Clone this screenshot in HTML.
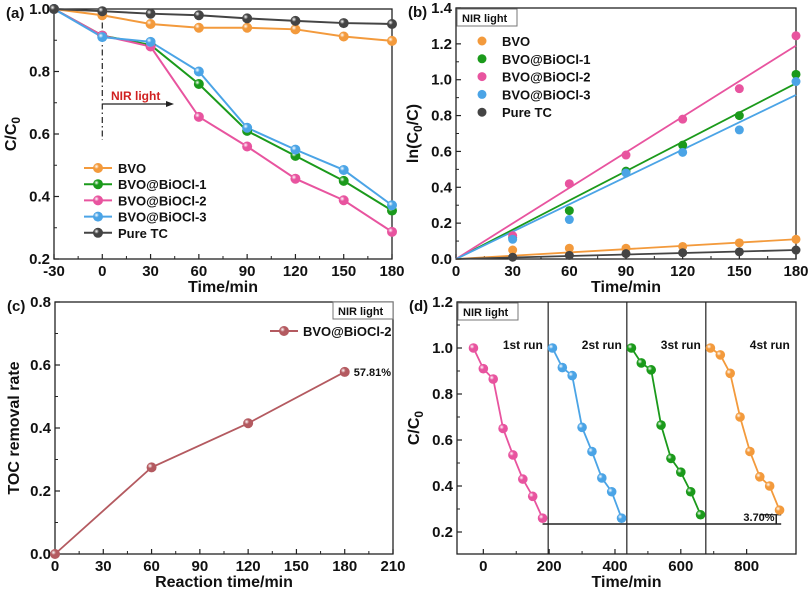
<!DOCTYPE html>
<html><head><meta charset="utf-8">
<style>
html,body{margin:0;padding:0;background:#fff;}
svg{display:block;font-family:"Liberation Sans",Arial,sans-serif;font-weight:bold;}
</style></head>
<body>
<svg id="fig" width="809" height="590" viewBox="0 0 809 590" xmlns="http://www.w3.org/2000/svg">
<defs id="defs"></defs>
</svg>
<script>
// ---- Panel (a) data ----
const aX = [-30, 0, 30, 60, 90, 120, 150, 180];
const aNames = ["BVO", "BVO@BiOCl-1", "BVO@BiOCl-2", "BVO@BiOCl-3", "Pure TC"];
const aBVO = [1.0, 0.98, 0.952, 0.94, 0.94, 0.935, 0.912, 0.898];
const aB1 = [1.0, 0.915, 0.885, 0.76, 0.61, 0.53, 0.45, 0.355];
const aB2 = [1.0, 0.915, 0.88, 0.655, 0.56, 0.457, 0.388, 0.287];
const aB3 = [1.0, 0.91, 0.895, 0.80, 0.62, 0.55, 0.485, 0.372];
const aTC = [1.0, 0.993, 0.985, 0.98, 0.97, 0.962, 0.955, 0.952];
const aXTicks = [-30, 0, 30, 60, 90, 120, 150, 180];
const aYTicks = [0.2, 0.4, 0.6, 0.8, 1.0];
// ---- Panel (b) data ----
const bX = [30, 60, 90, 120, 150, 180];
const bBVO = [0.05, 0.06, 0.06, 0.07, 0.09, 0.11];
const bB1 = [0.12, 0.27, 0.49, 0.635, 0.80, 1.03];
const bB2 = [0.13, 0.42, 0.58, 0.78, 0.95, 1.245];
const bB3 = [0.11, 0.22, 0.48, 0.595, 0.72, 0.99];
const bTC = [0.01, 0.02, 0.03, 0.035, 0.04, 0.05];
const bSlopes = [0.11/180, 0.98/180, 1.19/180, 0.915/180, 0.05/180];
const bXTicks = [0, 30, 60, 90, 120, 150, 180];
const bYTicks = [0.0, 0.2, 0.4, 0.6, 0.8, 1.0, 1.2, 1.4];
// ---- Panel (c) data ----
const cX = [0, 60, 120, 180];
const cY = [0.0, 0.275, 0.415, 0.578];
const cXTicks = [0, 30, 60, 90, 120, 150, 180, 210];
const cYTicks = [0.0, 0.2, 0.4, 0.6, 0.8];
// ---- Panel (d) data ----
const dRunX = [-30, 0, 30, 60, 90, 120, 150, 180];
const dRunOffsets = [0, 240, 480, 720];
const dRun1 = [1.0, 0.91, 0.865, 0.65, 0.535, 0.43, 0.355, 0.26];
const dRun2 = [1.0, 0.915, 0.88, 0.655, 0.55, 0.435, 0.375, 0.26];
const dRun3 = [1.0, 0.935, 0.905, 0.665, 0.52, 0.46, 0.375, 0.275];
const dRun4 = [1.0, 0.97, 0.89, 0.70, 0.55, 0.44, 0.40, 0.295];
const dRunLabels = ["1st run", "2st run", "3st run", "4st run"];
const dSeparators = [197, 436, 676];
const dXTicks = [0, 200, 400, 600, 800];
const dYTicks = [0.2, 0.4, 0.6, 0.8, 1.0, 1.2];

const NS = "http://www.w3.org/2000/svg";
const svg = document.getElementById("fig");
const defs = document.getElementById("defs");
const COL = {orange:"#f39a3c", green:"#1b9a1b", pink:"#e8549f", blue:"#4ba4e6", dark:"#444444", rose:"#b45a60"};

function el(tag, attrs, parent){
  const e = document.createElementNS(NS, tag);
  for (const k in attrs) e.setAttribute(k, attrs[k]);
  (parent||svg).appendChild(e);
  return e;
}
function grad(id, c){
  const g = el("radialGradient",{id:id,cx:"0.35",cy:"0.35",r:"0.7"},defs);
  el("stop",{offset:"0","stop-color":"#ffffff"},g);
  el("stop",{offset:"0.35","stop-color":c},g);
  el("stop",{offset:"1","stop-color":c},g);
}
for (const k in COL) grad("g"+k, COL[k]);

function scale(d0,d1,r0,r1){ return v => r0 + (v-d0)/(d1-d0)*(r1-r0); }

function axes(p, name){
  const g = el("g",{});
  
  
  el("rect",{x:p.l,y:p.t,width:p.r-p.l,height:p.b-p.t,fill:"none",stroke:"#222","stroke-width":1.3},g);
  p.xt.forEach((v,i)=>{
    const x = p.sx(v);
    el("line",{x1:x,y1:p.b,x2:x,y2:p.b-5,stroke:"#222","stroke-width":1.2},g);
    const t = el("text",{x:x,y:p.b+17,"text-anchor":"middle","font-size":15,fill:"#111"},g);
    t.textContent = String(v);
    if (i < p.xt.length-1){
      const xm = p.sx((v+p.xt[i+1])/2);
      el("line",{x1:xm,y1:p.b,x2:xm,y2:p.b-3,stroke:"#222","stroke-width":1},g);
    }
  });
  p.yt.forEach((v,i)=>{
    const y = p.sy(v);
    el("line",{x1:p.l,y1:y,x2:p.l+5,y2:y,stroke:"#222","stroke-width":1.2},g);
    const t = el("text",{x:p.l-4,y:y+5,"text-anchor":"end","font-size":15,fill:"#111"},g);
    t.textContent = v.toFixed(1);
    if (i < p.yt.length-1){
      const ym = p.sy((v+p.yt[i+1])/2);
      el("line",{x1:p.l,y1:ym,x2:p.l+3,y2:ym,stroke:"#222","stroke-width":1},g);
    }
  });
  const xt = el("text",{x:(p.l+p.r)/2,y:p.b+33,"text-anchor":"middle","font-size":16,fill:"#111"},g);
  xt.textContent = p.xtitle;
  const cx = p.l-(p.ytoff||38), cy = (p.t+p.b)/2;
  const yt = el("text",{x:cx,y:cy,"text-anchor":"middle","font-size":16,fill:"#111",transform:`rotate(-90 ${cx} ${cy})`},g);
  yt.innerHTML = p.ytitle;
  const lab = el("text",{x:p.l-48,y:p.t+9,"font-size":15,fill:"#111"},g);
  lab.textContent = p.label;
  return g;
}
function line(xs, ys, p, c, name, w){
  const pts = xs.map((x,i)=>p.sx(x)+","+p.sy(ys[i])).join(" ");
  const l = el("polyline",{points:pts,fill:"none",stroke:c,"stroke-width":w||2});
  
  
}
function dots(xs, ys, p, key, name, r, plain){
  xs.forEach((x,i)=>{
    const d = el("circle",{cx:p.sx(x),cy:p.sy(ys[i]),r:r||5,fill:plain?COL[key]:"url(#g"+key+")"});
    
    
  });
}
function text(x,y,s,size,fill,anchor,name){
  const t = el("text",{x:x,y:y,"font-size":size,fill:fill||"#111","text-anchor":anchor||"start"});
  t.textContent = s;
  
  
  return t;
}
function nirBox(x,y,w,name){
  const r = el("rect",{x:x,y:y,width:w,height:17,fill:"#fff",stroke:"#777","stroke-width":1});
  
  
  text(x+5,y+13,"NIR light",11,"#111","start",name+"-text");
}

// ===== Panel (a) =====
const pa = {l:54,r:392,t:9,b:259,sx:scale(-30,180,54,392),sy:scale(0.2,1.0,259,9),xt:aXTicks,yt:aYTicks,
  xtitle:"Time/min",ytitle:'C/C<tspan font-size="12" dy="4">0</tspan>',label:"(a)"};
axes(pa,"panel-a-axes");
const dd = el("line",{x1:pa.sx(0),y1:9,x2:pa.sx(0),y2:140,stroke:"#222","stroke-width":1.2,"stroke-dasharray":"6,3,1.5,3"});


const ar = el("line",{x1:pa.sx(0),y1:104,x2:170,y2:104,stroke:"#222","stroke-width":1.2});


const ah = el("polygon",{points:"174,104 166,101 166,107",fill:"#222"});


text(111,100,"NIR light",12,"#d02020","start","nir-light-label");
const aSeries = [aBVO,aB1,aB2,aB3,aTC];
const aKeys = ["orange","green","pink","blue","dark"];
aSeries.forEach((s,i)=>{ line(aX,s,pa,COL[aKeys[i]],"a-line-"+i); });
aSeries.forEach((s,i)=>{ dots(aX,s,pa,aKeys[i],"a-series-"+i,5); });
aNames.forEach((n,i)=>{
  const y = 168+i*16.2;
  const l = el("line",{x1:84,y1:y,x2:112,y2:y,stroke:COL[aKeys[i]],"stroke-width":2});
  
  
  const c = el("circle",{cx:98,cy:y,r:5,fill:"url(#g"+aKeys[i]+")"});
  
  
  text(118,y+5,n,13,"#111","start","a-legend-entry");
});

// ===== Panel (b) =====
const pb = {l:456,r:796,t:8,b:259,sx:scale(0,180,456,796),sy:scale(0,1.4,259,8),xt:bXTicks,yt:bYTicks,
  xtitle:"Time/min",ytitle:'ln(C<tspan font-size="12" dy="4">0</tspan><tspan dy="-4">/C)</tspan>',label:"(b)"};
axes(pb,"panel-b-axes");
const bSeries = [bBVO,bB1,bB2,bB3,bTC];
bSeries.forEach((s,i)=>{ line([0,180],[0,bSlopes[i]*180],pb,COL[aKeys[i]],"b-fit-"+i,1.8); });
bSeries.forEach((s,i)=>{ dots(bX,s,pb,aKeys[i],"b-series-"+i,4.5,true); });
nirBox(457,9,60,"b-nir-box");
aNames.forEach((n,i)=>{
  const y = 41+i*17.8;
  const c = el("circle",{cx:482,cy:y,r:4.5,fill:COL[aKeys[i]]});
  
  
  text(502,y+5,n,13,"#111","start","b-legend-entry");
});

// ===== Panel (c) =====
const pc = {l:55,r:393,t:302,b:554,sx:scale(0,210,55,393),sy:scale(0,0.8,554,302),xt:cXTicks,yt:cYTicks,
  xtitle:"Reaction time/min",ytitle:"TOC removal rate",label:"(c)",ytoff:36};
axes(pc,"panel-c-axes");
line(cX,cY,pc,COL.rose,"c-line",1.8);
dots(cX,cY,pc,"rose","c-series",5);
nirBox(333,302,60,"c-nir-box");
const cl = el("line",{x1:270,y1:331,x2:298,y2:331,stroke:COL.rose,"stroke-width":2});


const cm = el("circle",{cx:284,cy:331,r:5,fill:"url(#grose)"});


text(303,336,"BVO@BiOCl-2",13,"#111","start","c-legend-entry");
text(pc.sx(cX[3])+9,pc.sy(cY[3])+4,"57.81%",11,"#111","start","c-final-value");

// ===== Panel (d) =====
const pd = {l:457,r:796,t:302,b:554,sx:scale(-80,950,457,796),sy:scale(0.2,1.2,532,302),xt:dXTicks,yt:dYTicks,
  xtitle:"Time/min",ytitle:'C/C<tspan font-size="12" dy="4">0</tspan>',label:"(d)"};
axes(pd,"panel-d-axes");
dSeparators.forEach(v=>{
  const l = el("line",{x1:pd.sx(v),y1:pd.t,x2:pd.sx(v),y2:pd.b,stroke:"#222","stroke-width":1.2});
  
  
});
const hl = el("line",{x1:pd.sx(180),y1:pd.sy(0.235),x2:pd.sx(905),y2:pd.sy(0.235),stroke:"#222","stroke-width":1.5});


const hl2 = el("line",{x1:pd.sx(840),y1:pd.sy(0.275),x2:pd.sx(905),y2:pd.sy(0.275),stroke:"#222","stroke-width":1.2});


const va = el("line",{x1:pd.sx(890),y1:pd.sy(0.275),x2:pd.sx(890),y2:pd.sy(0.235),stroke:"#222","stroke-width":1.5});


text(pd.sx(885),pd.sy(0.235)-3,"3.70%",11,"#111","end","d-diff-label");
const dRuns = [dRun1,dRun2,dRun3,dRun4];
const dKeys = ["pink","blue","green","orange"];
dRuns.forEach((s,i)=>{
  const xs = dRunX.map(x=>x+dRunOffsets[i]);
  line(xs,s,pd,COL[dKeys[i]],"d-run-"+(i+1),1.8);
  dots(xs,s,pd,dKeys[i],"d-run-"+(i+1),4.8);
  text(pd.sx(dRunOffsets[i]+120)+(i==3?10:0),349,dRunLabels[i],12,"#111","middle","d-run-label");
});
nirBox(458,303,60,"d-nir-box");
</script>
</body></html>
